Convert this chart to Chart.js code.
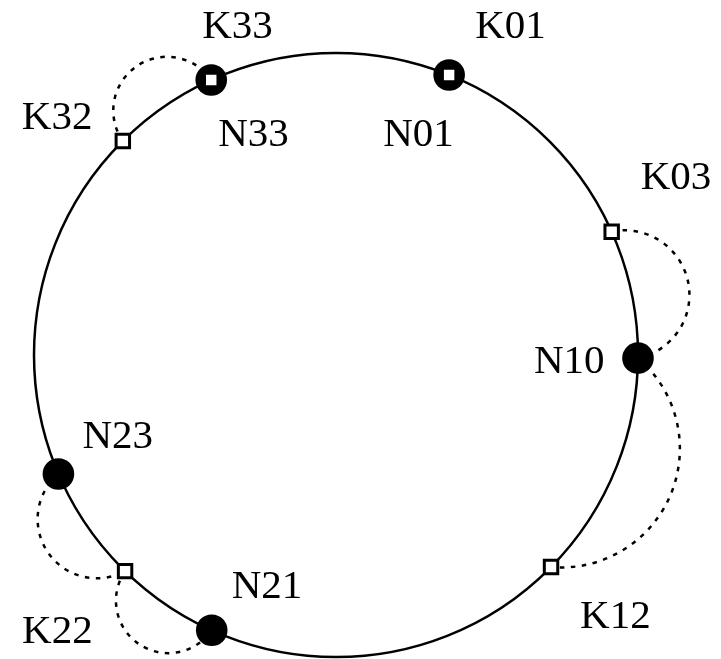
<!DOCTYPE html>
<html>
<head>
<meta charset="utf-8">
<script src="https://cdn.jsdelivr.net/npm/chart.js@4.4.1/dist/chart.umd.min.js"></script>
<style>
  html, body { margin: 0; padding: 0; background: #fff; }
  #ring { display: block; }
</style>
</head>
<body>
<canvas id="ring" width="721" height="659"></canvas>
<script>
// Chord-style ring: nodes and keys placed by angle (degrees, clockwise from top)
const nodeNames = ['N01', 'N10', 'N21', 'N23', 'N33'];
const nodeAngles = [22, 90.6, 204.3, 246.8, 335.6];

const keyNames = ['K01', 'K03', 'K12', 'K22', 'K32', 'K33'];
const keyAngles = [22, 65.9, 134.6, 224.3, 315.1, 335.6];

// dotted loops between neighbours on the ring
const linkFrom = ['K32', 'K03', 'N10', 'N23', 'K22'];
const linkTo = ['N33', 'N10', 'K12', 'K22', 'N21'];

// layout only: how far each loop bulges (sagitta / half chord)
const linkBulge = [1, 1, 0.73, 0.9, 1];

// layout only: text offset in px from the marker (left edge, baseline)
const labelOffset = {
    K33: [-9, -42], N33: [7, 66],
    K01: [26, -37], N01: [-66, 71],
    K32: [-101, -12], K03: [29, -43],
    N10: [-104, 15], N23: [24, -26],
    N21: [20, -32], K22: [-103, 72],
    K12: [29, 61]
};

const toPoint = (deg) => {
    const a = deg * Math.PI / 180;
    return { x: Math.sin(a), y: Math.cos(a) };
};

function angleOf(name) {
    let i = nodeNames.indexOf(name);
    if (i >= 0) return nodeAngles[i];
    i = keyNames.indexOf(name);
    return keyAngles[i];
}

function pixelOf(chart, name) {
    const p = toPoint(angleOf(name));
    return { x: chart.scales.x.getPixelForValue(p.x), y: chart.scales.y.getPixelForValue(p.y) };
}

const ringPlugin = {
    id: 'ringPlugin',
    beforeDatasetsDraw(chart) {
        const { ctx, scales: { x, y } } = chart;
        const cx = x.getPixelForValue(0);
        const cy = y.getPixelForValue(0);
        const r = x.getPixelForValue(1) - cx;

        ctx.save();
        ctx.strokeStyle = '#000';
        ctx.lineWidth = 2.5;
        ctx.beginPath();
        ctx.arc(cx, cy, r, 0, Math.PI * 2);
        ctx.stroke();

        ctx.setLineDash([4.5, 6.5]);
        linkFrom.forEach((from, i) => {
            const a = pixelOf(chart, from);
            const b = pixelOf(chart, linkTo[i]);
            const mx = (a.x + b.x) / 2, my = (a.y + b.y) / 2;
            const c = Math.hypot(b.x - a.x, b.y - a.y) / 2;
            // outward unit normal of the chord
            let nx = mx - cx, ny = my - cy;
            const nl = Math.hypot(nx, ny);
            nx /= nl; ny /= nl;
            const s = linkBulge[i] * c;
            const R = (c * c + s * s) / (2 * s);
            const ox = mx + nx * (s - R), oy = my + ny * (s - R);
            const aA = Math.atan2(a.y - oy, a.x - ox);
            const aB = Math.atan2(b.y - oy, b.x - ox);
            const aP = Math.atan2(ny, nx);
            const tau = Math.PI * 2;
            const sweep = ((aB - aA) % tau + tau) % tau;
            const toPeak = ((aP - aA) % tau + tau) % tau;
            ctx.beginPath();
            ctx.arc(ox, oy, R, aA, aB, toPeak > sweep);
            ctx.stroke();
        });
        ctx.restore();
    },
    afterDatasetsDraw(chart) {
        const { ctx } = chart;
        ctx.save();
        ctx.fillStyle = '#000';
        ctx.font = '41px "Liberation Serif", "DejaVu Serif", serif';
        ctx.textBaseline = 'alphabetic';
        ctx.textAlign = 'left';
        nodeNames.concat(keyNames).forEach((name) => {
            const p = pixelOf(chart, name);
            const off = labelOffset[name];
            ctx.fillText(name, p.x + off[0], p.y + off[1]);
        });
        ctx.restore();
    }
};

// one scale unit = ring radius (302 px); ring centre sits at (336, 355)
const R_PX = 302;

new Chart(document.getElementById('ring'), {
    type: 'scatter',
    data: {
        datasets: [
            {
                label: 'keys',
                data: keyAngles.map(toPoint),
                pointStyle: 'rect',
                pointRadius: 9.5,
                pointBackgroundColor: '#fff',
                pointBorderColor: '#000',
                pointBorderWidth: 3,
                order: 0
            },
            {
                label: 'nodes',
                data: nodeAngles.map(toPoint),
                pointStyle: 'circle',
                pointRadius: 15.8,
                pointBackgroundColor: '#000',
                pointBorderWidth: 0,
                order: 1
            }
        ]
    },
    options: {
        responsive: false,
        animation: false,
        devicePixelRatio: 1,
        layout: { padding: 0, autoPadding: false },
        events: [],
        scales: {
            x: { type: 'linear', display: false, min: -336 / R_PX, max: 385 / R_PX },
            y: { type: 'linear', display: false, min: -304 / R_PX, max: 355 / R_PX }
        },
        plugins: {
            legend: { display: false },
            tooltip: { enabled: false }
        }
    },
    plugins: [ringPlugin]
});
</script>
</body>
</html>
